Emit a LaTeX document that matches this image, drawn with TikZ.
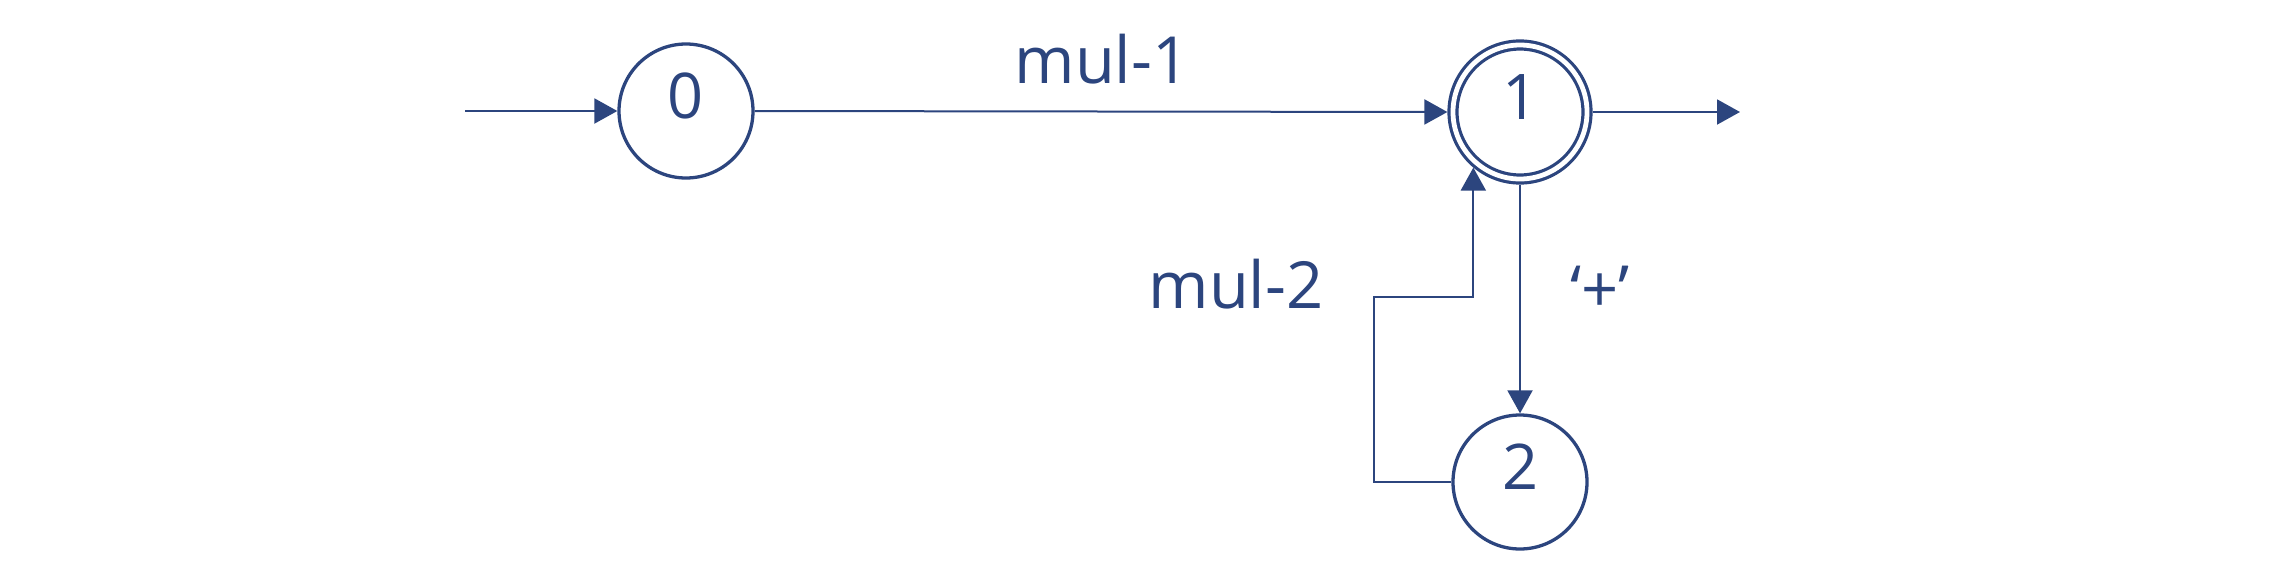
\documentclass[tikz,border=0pt]{standalone}
\usepackage{fontspec}
\setmainfont{Open Sans}
\usetikzlibrary{arrows.meta}
\definecolor{ink}{RGB}{44,69,126}
\tikzset{
  statebox/.style={circle, draw=ink, line width=3.3pt, minimum size=134pt, inner sep=0pt},
  acceptbox/.style={circle, draw=ink, line width=3.2pt, double=white, double distance=4.8pt, minimum size=134pt, inner sep=0pt, outer sep=5.6pt},
  digit/.style={text=ink, font=\fontsize{63pt}{70pt}\selectfont, yshift=15pt},
  conn/.style={draw=ink, line width=2pt, -{Triangle[length=23pt,width=25pt]}},
  plainline/.style={draw=ink, line width=2pt},
  lbl/.style={text=ink, font=\fontsize{65pt}{72pt}\selectfont, inner sep=0pt}
}
\begin{document}
\begin{tikzpicture}[x=1pt, y=-1pt]
\useasboundingbox (0,0) rectangle (2284,582);
\node[statebox, label={[digit]center:0}] (n0) at (686,111) {};
\node[acceptbox, label={[digit]center:1}] (n1) at (1520,112) {};
\node[statebox, label={[digit]center:2}] (n2) at (1520,482) {};
\coordinate (start) at (465,111);
\coordinate (out) at (1740,112);
\coordinate (loopL) at (1374,297);
\draw[conn] (start) -- (n0.west);
\draw[conn] (n0.east) -- (n1.west);
\draw[conn] (n1.east) -- (out);
\draw[conn] (n1.south) -- (n2.north);
\draw[conn] (n2.west) -| (loopL) -- (n1.230 |- loopL) -- (n1.230);
\node[lbl, anchor=base] (l1) at (1102,83) {mul-1};
\node[lbl, anchor=base] (l2) at (1236,308) {mul-2};
\node[lbl, anchor=base] (l3) at (1600,312) {‘+’};
\end{tikzpicture}
\end{document}
